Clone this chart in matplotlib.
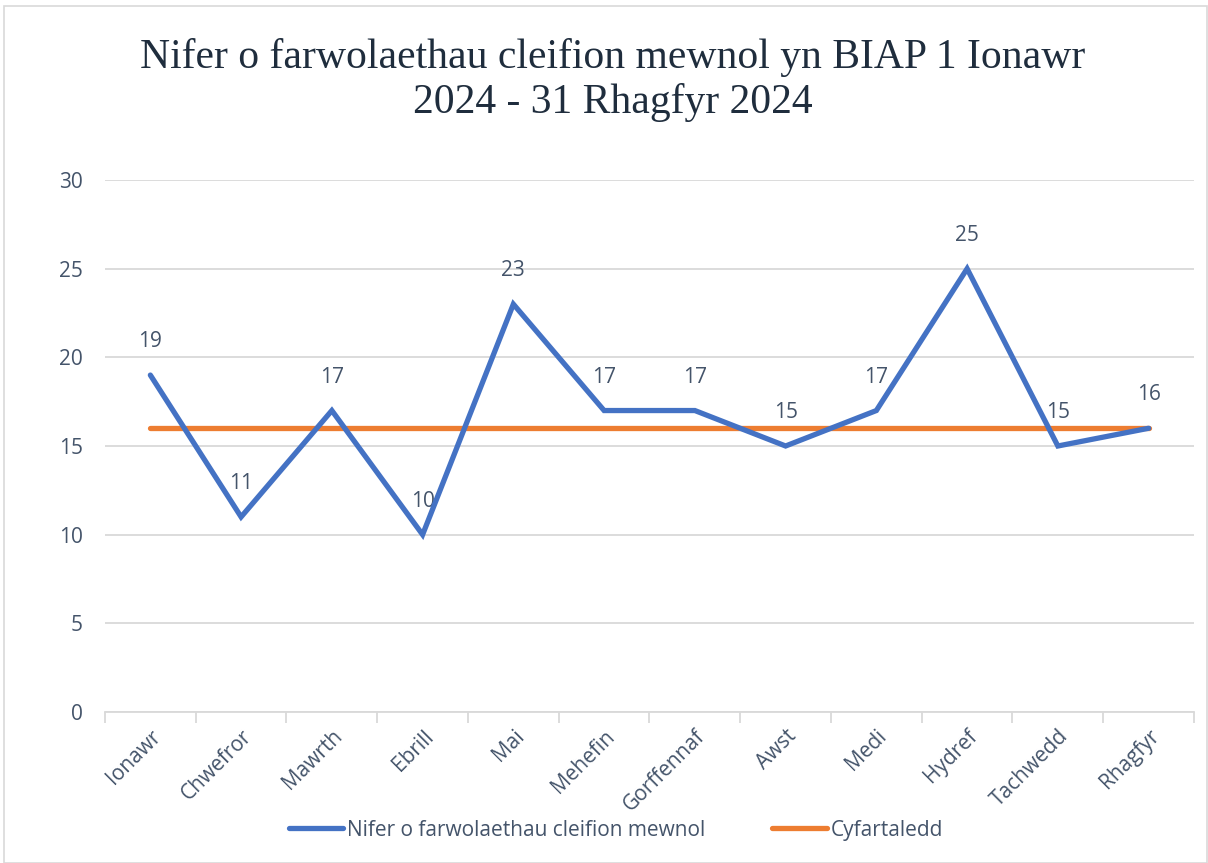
import matplotlib.pyplot as plt
from matplotlib.patches import Rectangle

# Misoedd 2024
months = ['Ionawr', 'Chwefror', 'Mawrth', 'Ebrill', 'Mai', 'Mehefin',
          'Gorffennaf', 'Awst', 'Medi', 'Hydref', 'Tachwedd', 'Rhagfyr']
deaths = [19, 11, 17, 10, 23, 17, 17, 15, 17, 25, 15, 16]
average = [16] * 12
yticks = [0, 5, 10, 15, 20, 25, 30]

label_col = '#44546A'
grid_col = '#D9D9D9'
blue = '#4472C4'
orange = '#ED7D31'

plt.rcParams['font.family'] = ['Open Sans', 'DejaVu Sans']

fig = plt.figure(figsize=(12.08, 8.63), dpi=100)
fig.patches.append(Rectangle((0.003, 0.0), 0.996, 0.993, transform=fig.transFigure,
                             fill=False, edgecolor='#D9D9D9', linewidth=1.2))

ax = fig.add_axes([0.0869, 0.175, 0.9015, 0.6164])
x = list(range(len(months)))

ax.plot(x, deaths, color=blue, linewidth=3.8, solid_capstyle='round',
        solid_joinstyle='miter', zorder=4, label='Nifer o farwolaethau cleifion mewnol')
ax.plot(x, average, color=orange, linewidth=3.8, solid_capstyle='round',
        zorder=3, label='Cyfartaledd')

for xi, v in zip(x, deaths):
    ax.annotate(str(v), (xi, v), xytext=(0, 24), textcoords='offset points',
                ha='center', va='center', fontsize=15, color=label_col, zorder=2)

ax.set_xlim(-0.5, len(months) - 0.5)
ax.set_ylim(0, 30)
ax.set_yticks(yticks)
ax.grid(axis='y', color=grid_col, linewidth=1.3, zorder=0)
ax.set_axisbelow(True)

for side in ['top', 'right', 'left']:
    ax.spines[side].set_visible(False)
ax.spines['bottom'].set_color(grid_col)
ax.spines['bottom'].set_linewidth(1.3)

ax.set_xticks(x)
ax.set_xticklabels(months, rotation=45, ha='right', rotation_mode='anchor',
                   fontsize=15, color=label_col)
ax.tick_params(axis='x', length=0, pad=10)
ax.set_xticks([i - 0.5 for i in range(len(months) + 1)], minor=True)
ax.tick_params(axis='x', which='minor', length=8, width=1.3, color=grid_col)
ax.tick_params(axis='y', length=0, pad=16, labelsize=15, labelcolor=label_col)

fig.text(0.507, 0.907, 'Nifer o farwolaethau cleifion mewnol yn BIAP 1 Ionawr\n2024 - 31 Rhagfyr 2024',
         ha='center', va='center', fontsize=30, family='Liberation Serif',
         color='#1F2D3D', linespacing=1.2)

leg = fig.legend(loc='center', bbox_to_anchor=(0.51, 0.038), ncol=2, frameon=False,
                 fontsize=15, labelcolor=label_col, handlelength=2.6, handletextpad=0.2,
                 columnspacing=3.2)
for line in leg.get_lines():
    line.set_solid_capstyle('round')

fig.savefig('out.png', dpi=100)
